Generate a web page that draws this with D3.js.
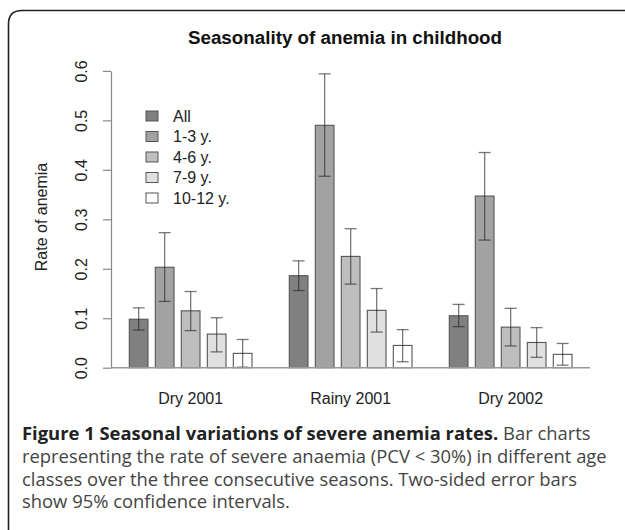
<!DOCTYPE html>
<html>
<head>
<meta charset="utf-8">
<script src="https://cdn.jsdelivr.net/npm/d3@7"></script>
<style>
html,body{margin:0;padding:0;background:#fff;}
svg{display:block;}
</style>
</head>
<body>
<svg id="chart" width="625" height="530"></svg>
<script>
const seasons = ["Dry 2001", "Rainy 2001", "Dry 2002"];
const ageGroups = ["All", "1-3 y.", "4-6 y.", "7-9 y.", "10-12 y."];
const rates = [
  [0.098, 0.203, 0.115, 0.068, 0.029],
  [0.186, 0.490, 0.225, 0.116, 0.045],
  [0.105, 0.347, 0.082, 0.051, 0.027]
];
const ciLow = [
  [0.076, 0.134, 0.075, 0.032, 0.001],
  [0.156, 0.387, 0.169, 0.072, 0.012],
  [0.083, 0.258, 0.044, 0.021, 0.005]
];
const ciHigh = [
  [0.121, 0.273, 0.154, 0.101, 0.057],
  [0.216, 0.594, 0.281, 0.160, 0.077],
  [0.128, 0.435, 0.120, 0.081, 0.049]
];
const yTicks = [0, 0.1, 0.2, 0.3, 0.4, 0.5, 0.6];
const fills = ["#808080", "#a2a2a2", "#bebebe", "#e0e0e0", "#ffffff"];
const titleText = "Seasonality of anemia in childhood";
const yLabel = "Rate of anemia";
const captionBold = "Figure 1 Seasonal variations of severe anemia rates.";
const captionLines = [
  " Bar charts",
  "representing the rate of severe anaemia (PCV < 30%) in different age",
  "classes over the three consecutive seasons. Two-sided error bars",
  "show 95% confidence intervals."
];

const svg = d3.select("#chart");
const sans = "Liberation Sans, Arial, Helvetica, sans-serif";

// frame
svg.append("path")
  .attr("d", "M8.5,540 L8.5,24 Q8.5,10.5 22,10.5 L640,10.5")
  .attr("fill", "none").attr("stroke", "#222").attr("stroke-width", 1.6);

const y = d3.scaleLinear().domain([0, 0.6]).range([367.7, 70.9]);
const x0 = d3.scaleBand().domain(seasons).range([129.3, 572]).paddingInner(0.2331).paddingOuter(0);
const x1 = d3.scaleBand().domain(ageGroups).range([0, x0.bandwidth()]).paddingInner(0.281).paddingOuter(0);

// title
svg.append("text").attr("x", 345).attr("y", 44).attr("text-anchor", "middle")
  .attr("font-family", sans).attr("font-weight", "bold").attr("font-size", 18.8)
  .attr("fill", "#111").text(titleText);

// y axis
const axisX = 111;
const yAxis = svg.append("g").attr("transform", `translate(${axisX},0)`)
  .call(d3.axisLeft(y).tickValues(yTicks).tickFormat(d3.format(".1f")).tickSize(8).tickSizeOuter(0));
yAxis.select(".domain").attr("stroke", "#888").attr("stroke-width", 1.2);
yAxis.selectAll(".tick line").attr("stroke", "#888").attr("stroke-width", 1.2);
yAxis.selectAll(".tick text")
  .attr("font-family", sans).attr("font-size", 16).attr("fill", "#222")
  .attr("x", 0).attr("y", 0).attr("dy", "0")
  .attr("text-anchor", "middle").attr("dominant-baseline", "auto")
  .attr("transform", "translate(-24,0) rotate(-90)");

// y label
svg.append("text").attr("transform", "translate(47,217) rotate(-90)")
  .attr("text-anchor", "middle").attr("font-family", sans).attr("font-size", 16)
  .attr("fill", "#222").text(yLabel);

// bars
const groups = svg.append("g").selectAll("g").data(seasons).join("g")
  .attr("transform", d => `translate(${x0(d)},0)`);

groups.each(function(season, si){
  const g = d3.select(this);
  ageGroups.forEach((ag, ai) => {
    const v = rates[si][ai];
    g.append("rect")
      .attr("x", x1(ag)).attr("y", y(v))
      .attr("width", x1.bandwidth()).attr("height", y(0) - y(v))
      .attr("fill", fills[ai]).attr("stroke", "#555").attr("stroke-width", 1.1);
  });
});

// baseline
svg.append("line").attr("x1", axisX).attr("x2", 590).attr("y1", y(0)).attr("y2", y(0))
  .attr("stroke", "#999").attr("stroke-width", 1.4);

// error bars
groups.each(function(season, si){
  const g = d3.select(this);
  ageGroups.forEach((ag, ai) => {
    const cx = x1(ag) + x1.bandwidth() / 2;
    const lo = y(ciLow[si][ai]), hi = y(ciHigh[si][ai]);
    const eb = g.append("g").attr("stroke", "#222").attr("stroke-opacity", 0.6).attr("stroke-width", 1.3);
    eb.append("line").attr("x1", cx).attr("x2", cx).attr("y1", lo).attr("y2", hi);
    eb.append("line").attr("x1", cx - 6).attr("x2", cx + 6).attr("y1", lo).attr("y2", lo);
    eb.append("line").attr("x1", cx - 6).attr("x2", cx + 6).attr("y1", hi).attr("y2", hi);
  });
});

// x labels
svg.append("g").selectAll("text").data(seasons).join("text")
  .attr("x", d => x0(d) + x0.bandwidth() / 2).attr("y", 404)
  .attr("text-anchor", "middle").attr("font-family", sans).attr("font-size", 16)
  .attr("fill", "#222").text(d => d);

// legend
const leg = svg.append("g");
ageGroups.forEach((ag, i) => {
  const cy = 116 + i * 20.5;
  leg.append("rect").attr("x", 146).attr("y", cy - 5).attr("width", 12).attr("height", 10)
    .attr("fill", fills[i]).attr("stroke", "#555").attr("stroke-width", 1);
  leg.append("text").attr("x", 173).attr("y", cy + 5.5)
    .attr("font-family", sans).attr("font-size", 16).attr("fill", "#222").text(ag);
});

// caption
const capFont = "Open Sans, Noto Sans, sans-serif";
const cap = svg.append("g").attr("font-family", capFont).attr("font-size", 18.4).attr("fill", "#333");
const t1 = cap.append("text").attr("x", 22).attr("y", 440);
t1.append("tspan").attr("font-weight", "bold").attr("fill", "#222").text(captionBold);
t1.append("tspan").attr("fill", "#444").text(captionLines[0]);
captionLines.slice(1).forEach((l, i) => {
  cap.append("text").attr("x", 22).attr("y", 463 + i * 22.7).attr("fill", "#444").text(l);
});
</script>
</body>
</html>
